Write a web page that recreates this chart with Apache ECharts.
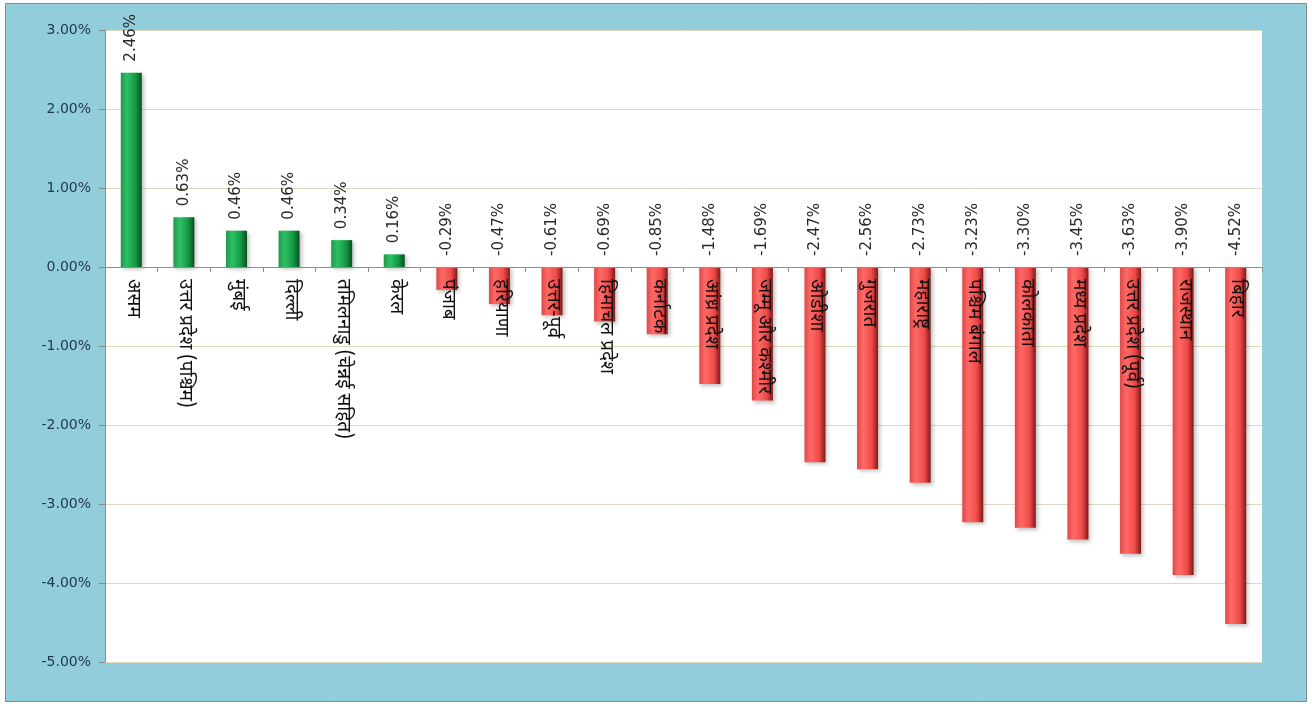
<!DOCTYPE html>
<html>
<head>
<meta charset="utf-8">
<script src="https://cdn.jsdelivr.net/npm/echarts@6/dist/echarts.min.js"></script>
<style>
  html, body { margin: 0; padding: 0; background: #ffffff; }
  #chart { width: 1312px; height: 704px; }
</style>
</head>
<body>
<div id="chart"></div>
<script>
// Regions / states
const categories = [
  'असम', 'उत्तर प्रदेश (पश्चिम)', 'मुंबई', 'दिल्ली', 'तमिलनाडु (चेन्नई सहित)', 'केरल',
  'पंजाब', 'हरियाणा', 'उत्तर-पूर्व', 'हिमाचल प्रदेश', 'कर्नाटक', 'आंध्र प्रदेश',
  'जम्मू और कश्मीर', 'ओडीशा', 'गुजरात', 'महाराष्ट्र', 'पश्चिम बंगाल', 'कोलकाता',
  'मध्य प्रदेश', 'उत्तर प्रदेश (पूर्व)', 'राजस्थान', 'बिहार'
];
// Change, in percent
const values = [
  2.46, 0.63, 0.46, 0.46, 0.34, 0.16,
  -0.29, -0.47, -0.61, -0.69, -0.85, -1.48,
  -1.69, -2.47, -2.56, -2.73, -3.23, -3.30,
  -3.45, -3.63, -3.90, -4.52
];
// Value-axis range and step, in percent
const yMin = -5, yMax = 3, yStep = 1;

const greenFill = new echarts.graphic.LinearGradient(0, 0, 1, 0, [
  { offset: 0, color: '#1f9a4a' },
  { offset: 0.3, color: '#2fc066' },
  { offset: 0.7, color: '#139843' },
  { offset: 1, color: '#0b4f22' }
]);
const redFill = new echarts.graphic.LinearGradient(0, 0, 1, 0, [
  { offset: 0, color: '#e04848' },
  { offset: 0.3, color: '#ff6a66' },
  { offset: 0.7, color: '#f04a48' },
  { offset: 1, color: '#7d1a1a' }
]);

const labelFont = 'DejaVu Sans, Verdana, sans-serif';
const hindiFont = 'Noto Sans Devanagari, Noto Sans, sans-serif';

const chart = echarts.init(document.getElementById('chart'), null, { renderer: 'canvas' });

chart.setOption({
  animation: false,
  backgroundColor: '#ffffff',
  graphic: [{
    type: 'rect',
    z: -10,
    silent: true,
    shape: { x: 5.5, y: 3.5, width: 1301, height: 698 },
    style: { fill: '#92cddc', stroke: '#7a8f96', lineWidth: 1 }
  }],
  grid: {
    left: 105, top: 30, right: 50, bottom: 42,
    outerBoundsMode: 'none',
    containLabel: false,
    show: true, backgroundColor: '#ffffff', borderWidth: 0
  },
  xAxis: {
    type: 'category',
    data: categories,
    z: 5,
    axisLine: { onZero: false, lineStyle: { color: '#8c8c8c', width: 1 } },
    axisTick: { show: true, alignWithLabel: false, length: 5, lineStyle: { color: '#8c8c8c' } },
    axisLabel: {
      interval: 0,
      rotate: -90,
      margin: 12,
      fontSize: 19,
      color: '#111111',
      fontFamily: hindiFont
    },
    splitLine: { show: false }
  },
  yAxis: {
    type: 'value',
    min: yMin, max: yMax, interval: yStep,
    axisLine: { show: true, lineStyle: { color: '#8c8c8c' } },
    axisTick: { show: true, length: 6, lineStyle: { color: '#8c8c8c' } },
    axisLabel: {
      margin: 14,
      fontSize: 14,
      color: '#23394d',
      fontFamily: labelFont,
      formatter: v => v.toFixed(2) + '%'
    },
    splitLine: { show: true, lineStyle: { color: '#dcd9bf', width: 1 } }
  },
  series: [{
    type: 'bar',
    barWidth: 21,
    data: values.map(v => ({
      value: v,
      itemStyle: { color: v >= 0 ? greenFill : redFill }
    })),
    itemStyle: {
      shadowBlur: 4,
      shadowOffsetX: 2,
      shadowOffsetY: 2,
      shadowColor: 'rgba(0,0,0,0.25)'
    },
    label: {
      show: true,
      position: 'top',
      rotate: 90,
      distance: 11,
      align: 'left',
      verticalAlign: 'middle',
      fontSize: 15,
      color: '#2a2a2a',
      fontFamily: labelFont,
      formatter: p => p.value.toFixed(2) + '%'
    }
  }]
});

// Put the category axis (line, ticks and names) on the zero line of the value axis
const zeroY = chart.convertToPixel({ yAxisIndex: 0 }, 0);
const bottomY = chart.convertToPixel({ yAxisIndex: 0 }, yMin);
chart.setOption({ xAxis: { offset: -(bottomY - zeroY) } });
</script>
</body>
</html>
